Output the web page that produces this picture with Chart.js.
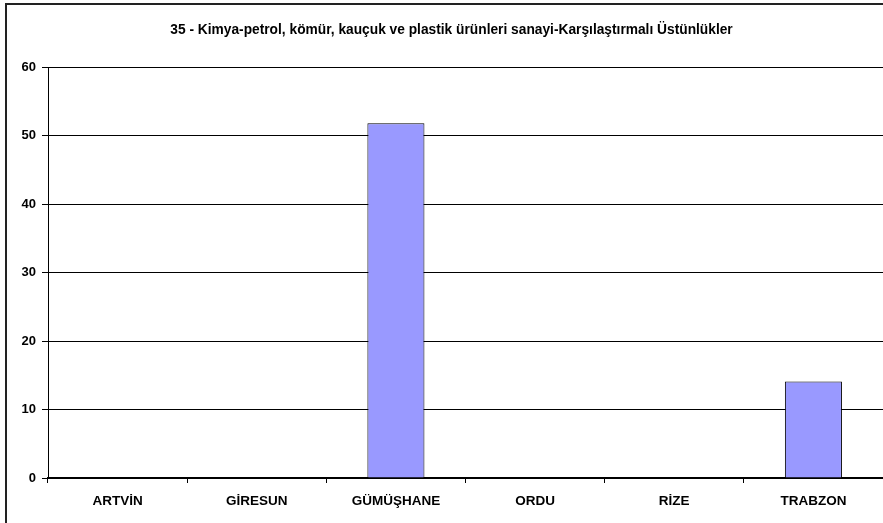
<!DOCTYPE html>
<html>
<head>
<meta charset="utf-8">
<script src="https://cdn.jsdelivr.net/npm/chart.js@4"></script>
<style>
  html, body { margin: 0; padding: 0; background: #fff; }
  #wrap { width: 883px; height: 523px; position: relative; }
</style>
</head>
<body>
<div id="wrap"><canvas id="chart"></canvas></div>
<script>
// veriler
const chartTitle = '35 - Kimya-petrol, kömür, kauçuk ve plastik ürünleri sanayi-Karşılaştırmalı Üstünlükler';
const iller = ['ARTVİN', 'GİRESUN', 'GÜMÜŞHANE', 'ORDU', 'RİZE', 'TRABZON'];
const degerler = [0, 0, 51.8, 0, 0, 14.1];

const fontAile = "'Liberation Sans', Arial, sans-serif";

// dış çerçeve (sol ve üst kenar)
const cerceve = {
    id: 'cerceve',
    afterDraw(chart) {
        const ctx = chart.ctx;
        ctx.save();
        ctx.strokeStyle = '#222';
        ctx.lineWidth = 2;
        ctx.beginPath();
        ctx.moveTo(6, chart.height);
        ctx.lineTo(6, 4);
        ctx.lineTo(chart.width, 4);
        ctx.stroke();
        ctx.restore();
    }
};

const ctx = document.getElementById('chart').getContext('2d');
new Chart(ctx, {
    type: 'bar',
    data: {
        labels: iller,
        datasets: [{
            data: degerler,
            backgroundColor: '#9999FF',
            borderColor: '#000',
            borderWidth: 1,
            categoryPercentage: 1,
            barPercentage: 0.41
        }]
    },
    options: {
        responsive: true,
        maintainAspectRatio: false,
        animation: false,
        layout: { padding: { left: 20, right: 0, top: 0, bottom: 0 } },
        plugins: {
            legend: { display: false },
            tooltip: { enabled: false },
            title: {
                display: true,
                text: chartTitle,
                color: '#000',
                font: { family: fontAile, size: 13.75, weight: 'bold', lineHeight: 1.2 },
                padding: { top: 22, bottom: 28.5 }
            }
        },
        scales: {
            y: {
                min: 0,
                max: 60,
                ticks: {
                    stepSize: 10,
                    color: '#000',
                    padding: 6,
                    font: { family: fontAile, size: 13, weight: 'bold' }
                },
                grid: { color: '#000', lineWidth: 1, tickLength: 6 },
                border: { color: '#000', width: 1 },
                afterFit(scale) { scale.width = 28; }
            },
            x: {
                ticks: {
                    color: '#000',
                    padding: 10,
                    font: { family: fontAile, size: 13.5, weight: 'bold' }
                },
                grid: { offset: true, drawOnChartArea: false, color: '#000', tickLength: 5 },
                border: { color: '#000', width: 2 },
                afterFit(scale) { scale.height = 45; }
            }
        }
    },
    plugins: [cerceve]
});
</script>
</body>
</html>
